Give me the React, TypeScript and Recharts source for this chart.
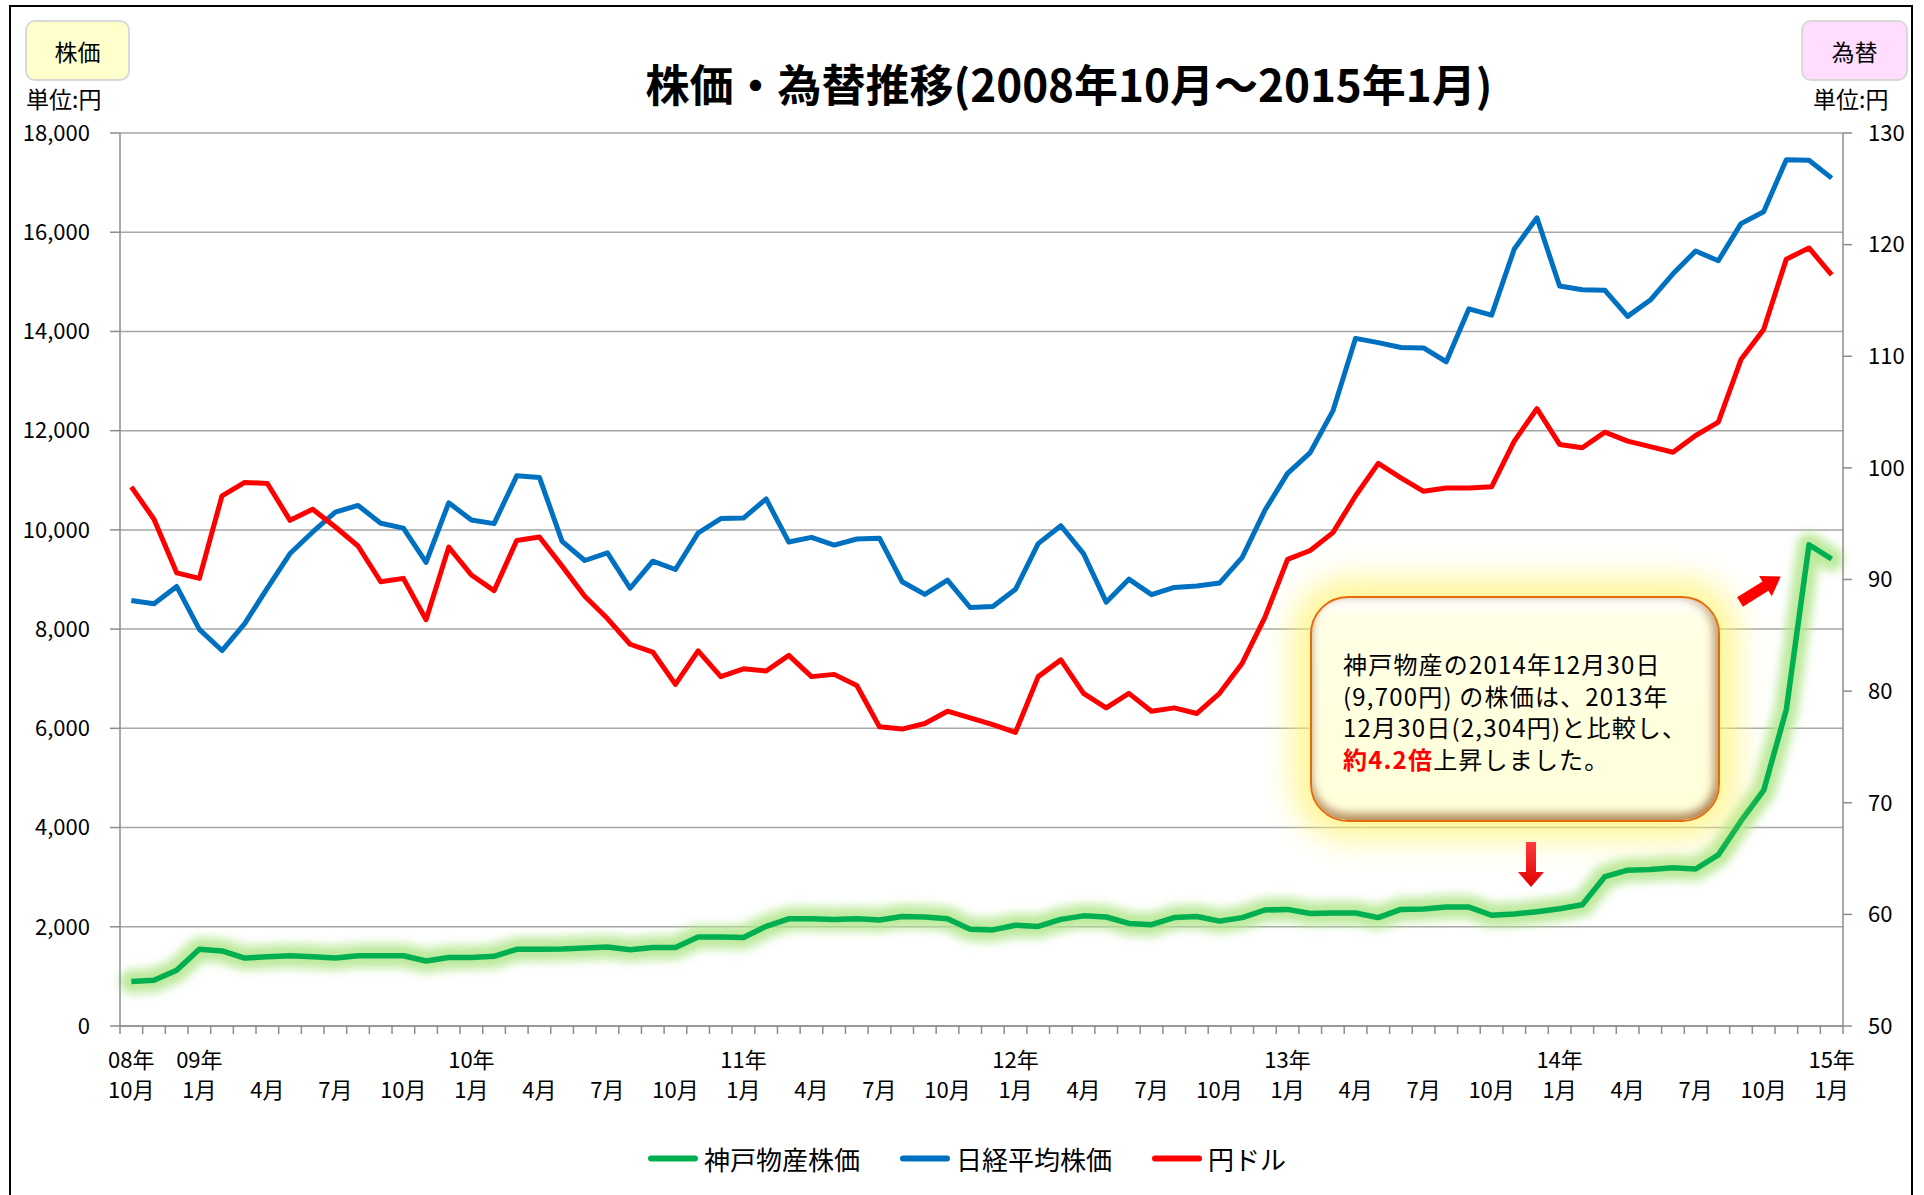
import React from 'react';
import { LineChart, Line, XAxis, YAxis, CartesianGrid } from 'recharts';

const FONT = "'Noto Sans CJK JP', 'Noto Sans', sans-serif";
const AXIS = '#8C8C8C';
const GRID = '#A6A6A6';

// monthly, Oct 2008 .. Jan 2015
const months = [
  '2008-10', '2008-11', '2008-12',
  '2009-01', '2009-02', '2009-03', '2009-04', '2009-05', '2009-06', '2009-07', '2009-08', '2009-09', '2009-10', '2009-11', '2009-12',
  '2010-01', '2010-02', '2010-03', '2010-04', '2010-05', '2010-06', '2010-07', '2010-08', '2010-09', '2010-10', '2010-11', '2010-12',
  '2011-01', '2011-02', '2011-03', '2011-04', '2011-05', '2011-06', '2011-07', '2011-08', '2011-09', '2011-10', '2011-11', '2011-12',
  '2012-01', '2012-02', '2012-03', '2012-04', '2012-05', '2012-06', '2012-07', '2012-08', '2012-09', '2012-10', '2012-11', '2012-12',
  '2013-01', '2013-02', '2013-03', '2013-04', '2013-05', '2013-06', '2013-07', '2013-08', '2013-09', '2013-10', '2013-11', '2013-12',
  '2014-01', '2014-02', '2014-03', '2014-04', '2014-05', '2014-06', '2014-07', '2014-08', '2014-09', '2014-10', '2014-11', '2014-12',
  '2015-01',
];

const kobePrice = [
  898, 921, 1122, 1547, 1512, 1370, 1394, 1417, 1394, 1370,
  1417, 1417, 1417, 1311, 1382, 1382, 1405, 1547, 1547, 1550,
  1571, 1594, 1535, 1583, 1583, 1795, 1795, 1783, 2008, 2161,
  2161, 2149, 2161, 2138, 2208, 2197, 2161, 1949, 1937, 2031,
  2008, 2149, 2220, 2197, 2067, 2043, 2185, 2208, 2114, 2185,
  2338, 2350, 2268, 2279, 2279, 2185, 2350, 2360, 2397, 2397,
  2232, 2256, 2304, 2362, 2445, 3012, 3141, 3153, 3189, 3165,
  3449, 4134, 4748, 6377, 9700, 9413,
];

const nikkeiAvg = [
  8577, 8512, 8860, 7994, 7568, 8110, 8828, 9523, 9958, 10357,
  10493, 10133, 10035, 9345, 10546, 10198, 10126, 11090, 11057, 9769,
  9383, 9537, 8824, 9369, 9202, 9937, 10229, 10238, 10624, 9755,
  9850, 9694, 9816, 9833, 8955, 8700, 8988, 8435, 8455, 8802,
  9723, 10084, 9521, 8543, 9007, 8695, 8840, 8870, 8928, 9446,
  10395, 11139, 11559, 12398, 13861, 13775, 13677, 13668, 13389, 14456,
  14328, 15662, 16291, 14915, 14841, 14828, 14304, 14632, 15162, 15621,
  15425, 16174, 16414, 17460, 17451, 17090,
];

const usdJpy = [
  98.3, 95.4, 90.6, 90.1, 97.5, 98.7, 98.6, 95.3, 96.3, 94.7,
  93.0, 89.8, 90.1, 86.4, 92.9, 90.4, 89.0, 93.5, 93.8, 91.2,
  88.5, 86.5, 84.2, 83.5, 80.6, 83.6, 81.3, 82.0, 81.8, 83.2,
  81.3, 81.5, 80.5, 76.8, 76.6, 77.1, 78.2, 77.6, 77.0, 76.3,
  81.3, 82.8, 79.8, 78.5, 79.8, 78.2, 78.5, 78.0, 79.8, 82.5,
  86.6, 91.8, 92.6, 94.2, 97.5, 100.4, 99.1, 97.9, 98.2, 98.2,
  98.3, 102.4, 105.3, 102.1, 101.8, 103.2, 102.4, 101.9, 101.4, 102.9,
  104.1, 109.7, 112.4, 118.7, 119.7, 117.3,
];

const leftTicks = [0, 2000, 4000, 6000, 8000, 10000, 12000, 14000, 16000, 18000];
const rightTicks = [50, 60, 70, 80, 90, 100, 110, 120, 130];

const series = [
  { key: 'kobe', name: '神戸物産株価', color: '#00B050', axis: 'left' },
  { key: 'nikkei', name: '日経平均株価', color: '#0070C0', axis: 'left' },
  { key: 'usdjpy', name: '円ドル', color: '#FF0000', axis: 'right' },
];

const data = months.map((m, i) => ({
  month: m,
  kobe: kobePrice[i],
  nikkei: nikkeiAvg[i],
  usdjpy: usdJpy[i],
}));

const MonthTick = (props: any) => {
  const { x, y, payload, index } = props;
  const half = payload && payload.offset ? payload.offset : 11.34;
  const [yy, mm] = String(payload.value).split('-');
  const m = Number(mm);
  const showMonth = index % 3 === 0;
  const showYear = index === 0 || m === 1;
  const isLast = index === months.length - 1;
  const txt = { fontFamily: FONT, fontSize: 22, fill: '#000' };
  return (
    <g>
      <line x1={x - half} x2={x - half} y1={y} y2={y + 8} stroke={AXIS} strokeWidth={1.5} />
      {isLast && <line x1={x + half} x2={x + half} y1={y} y2={y + 8} stroke={AXIS} strokeWidth={1.5} />}
      {showYear && (
        <text x={x} y={y + 32} textAnchor="middle" dominantBaseline="central" {...txt}>
          {yy.slice(2)}年
        </text>
      )}
      {showMonth && (
        <text x={x} y={y + 62} textAnchor="middle" dominantBaseline="central" {...txt}>
          {m}月
        </text>
      )}
    </g>
  );
};

const fmt = (v: number) => v.toLocaleString('en-US');

const unitLabel: React.CSSProperties = {
  position: 'absolute',
  fontFamily: FONT,
  fontSize: 23,
  color: '#000',
  lineHeight: '28px',
};

export default function App() {
  return (
    <div style={{ position: 'relative', width: 1924, height: 1195, background: '#fff', overflow: 'hidden' }}>
      <style>{`body{margin:0} .glow-line path{filter:url(#greenGlow)}`}</style>
      <svg width="0" height="0" style={{ position: 'absolute' }}>
        <defs>
          <filter id="greenGlow" filterUnits="userSpaceOnUse" x="0" y="0" width="1924" height="1195">
            <feGaussianBlur stdDeviation="5" />
          </filter>
        </defs>
      </svg>

      <div style={{ position: 'absolute', left: 0, top: 0 }}>
        <LineChart width={1924} height={1195} data={data} margin={{ top: 133, right: 1, bottom: 69, left: 0 }}>
          <CartesianGrid yAxisId="left" vertical={false} stroke={GRID} strokeWidth={1.5} />
          <XAxis
            dataKey="month"
            scale="band"
            height={100}
            interval={0}
            tickLine={false}
            tickSize={0}
            tickMargin={0}
            axisLine={{ stroke: AXIS, strokeWidth: 1.5 }}
            tick={<MonthTick />}
          />
          <YAxis
            yAxisId="left"
            width={120}
            domain={[0, 18000]}
            ticks={leftTicks}
            tickFormatter={fmt}
            tickSize={10}
            tickMargin={20}
            axisLine={{ stroke: AXIS, strokeWidth: 1.5 }}
            tickLine={{ stroke: AXIS, strokeWidth: 1.5 }}
            tick={{ fill: '#000', fontSize: 22, fontFamily: FONT }}
            allowDataOverflow
          />
          <YAxis
            yAxisId="right"
            orientation="right"
            width={80}
            domain={[50, 130]}
            ticks={rightTicks}
            tickSize={9}
            tickMargin={16}
            axisLine={{ stroke: AXIS, strokeWidth: 1.5 }}
            tickLine={{ stroke: AXIS, strokeWidth: 1.5 }}
            tick={{ fill: '#000', fontSize: 22, fontFamily: FONT, textAnchor: 'start' }}
            allowDataOverflow
          />
          <Line
            yAxisId="left"
            dataKey="kobe"
            className="glow-line"
            stroke="#B2E68C"
            strokeOpacity={0.85}
            strokeWidth={24}
            strokeLinejoin="round"
            strokeLinecap="round"
            dot={false}
            activeDot={false}
            legendType="none"
            isAnimationActive={false}
          />
          {series.map((s) => (
            <Line
              key={s.key}
              yAxisId={s.axis}
              dataKey={s.key}
              name={s.name}
              type="linear"
              stroke={s.color}
              strokeWidth={s.key === 'kobe' ? 5.5 : 5}
              strokeLinejoin="round"
              dot={false}
              activeDot={false}
              isAnimationActive={false}
            />
          ))}
        </LineChart>
      </div>

      {/* outer frame */}
      <div style={{ position: 'absolute', left: 9, top: 5, width: 1904, height: 1200, border: '2px solid #000', boxSizing: 'border-box', pointerEvents: 'none' }} />

      {/* title */}
      <div
        style={{
          position: 'absolute',
          left: 1069,
          top: 83,
          transform: 'translate(-50%, -50%)',
          fontFamily: FONT,
          fontWeight: 700,
          fontSize: 44,
          whiteSpace: 'nowrap',
          color: '#000',
        }}
      >
        株価・為替推移(2008年10月～2015年1月)
      </div>

      {/* axis name boxes */}
      <div style={{ position: 'absolute', left: 25, top: 20, width: 105, height: 61, boxSizing: 'border-box', background: '#FFFFCC', border: '2px solid #D9D9D9', borderRadius: 10, display: 'flex', alignItems: 'center', justifyContent: 'center', fontFamily: FONT, fontSize: 23 }}>
        株価
      </div>
      <div style={{ ...unitLabel, left: 26, top: 84 }}>単位:円</div>
      <div style={{ position: 'absolute', left: 1801, top: 20, width: 107, height: 61, boxSizing: 'border-box', background: '#FFDDFF', border: '2px solid #D9D9D9', borderRadius: 10, display: 'flex', alignItems: 'center', justifyContent: 'center', fontFamily: FONT, fontSize: 23 }}>
        為替
      </div>
      <div style={{ ...unitLabel, left: 1813, top: 84 }}>単位:円</div>

      {/* annotation */}
      <div
        style={{
          position: 'absolute',
          left: 1310,
          top: 596,
          width: 410,
          height: 226,
          boxSizing: 'border-box',
          borderRadius: 38,
          border: '2.5px solid #E46C0A',
          background: 'linear-gradient(180deg, #FFFFFF 0%, #FFFFE6 10%, #FFFFD9 100%)',
          boxShadow:
            '0 0 30px 18px rgba(255, 243, 110, 0.7), inset 0 -7px 8px rgba(140, 80, 30, 0.55), inset -6px 0 8px rgba(140, 80, 30, 0.35)',
          fontFamily: FONT,
          fontSize: 24,
          letterSpacing: 1.2,
          lineHeight: '31.7px',
          color: '#000',
          padding: '50px 0 0 31px',
          whiteSpace: 'nowrap',
        }}
      >
        <div>神戸物産の2014年12月30日</div>
        <div>(9,700円) の株価は、2013年</div>
        <div>12月30日(2,304円)と比較し、</div>
        <div>
          <span style={{ color: '#FF0000', fontWeight: 700 }}>約4.2倍</span>上昇しました。
        </div>
      </div>

      {/* arrows */}
      <svg width={1924} height={1195} style={{ position: 'absolute', left: 0, top: 0, pointerEvents: 'none' }}>
        <defs>
          <linearGradient id="arrowRed" x1="0" y1="0" x2="0" y2="1">
            <stop offset="0%" stopColor="#FF3B3B" />
            <stop offset="100%" stopColor="#E00000" />
          </linearGradient>
        </defs>
        <polygon points="1526,842 1536,842 1536,872 1544,872 1531,887 1518,872 1526,872" fill="url(#arrowRed)" />
        <g transform="translate(1740,602) rotate(-32)">
          <polygon points="0,-5.5 30,-5.5 30,-12 48,0 30,12 30,5.5 0,5.5" fill="#FF0000" />
        </g>
      </svg>

      {/* legend */}
      <div
        style={{
          position: 'absolute',
          left: 648,
          top: 1158,
          transform: 'translateY(-50%)',
          display: 'flex',
          alignItems: 'center',
          fontFamily: FONT,
          fontSize: 26,
          color: '#000',
          whiteSpace: 'nowrap',
        }}
      >
        {series.map((s) => (
          <div key={s.key} style={{ display: 'flex', alignItems: 'center', marginRight: 40 }}>
            <div style={{ width: 50, height: 6, borderRadius: 3, background: s.color, marginRight: 6 }} />
            <span>{s.name}</span>
          </div>
        ))}
      </div>
    </div>
  );
}
